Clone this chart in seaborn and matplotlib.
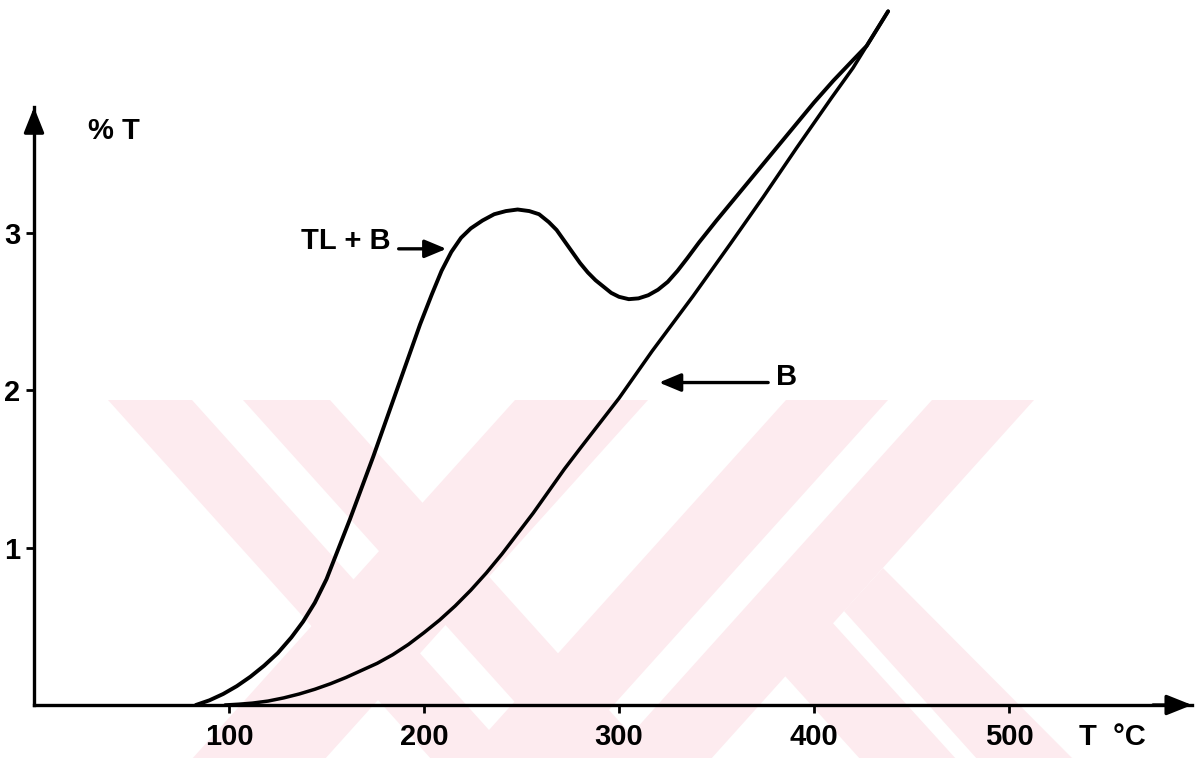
import matplotlib
matplotlib.use("Agg")
import matplotlib.pyplot as plt
from matplotlib.patches import Polygon
import seaborn as sns

# Glow curve: TL signal on top of background (TL + B), temperature in °C
tlb_temp = [83, 90, 97, 104, 111, 118, 125, 132, 138, 144, 150, 156, 162, 168,
            174, 180, 186, 192, 198, 204, 209, 214, 219, 224, 230, 236, 242, 248,
            254, 259, 264, 268, 272, 276, 280, 284, 288, 292, 296, 300, 305, 310,
            315, 320, 325, 330, 335, 341, 350, 360, 370, 380, 390, 400, 410, 420,
            427, 438]
tlb_signal = [0.00, 0.03, 0.07, 0.12, 0.18, 0.25, 0.33, 0.43, 0.53, 0.65, 0.80, 0.99,
              1.18, 1.38, 1.58, 1.79, 2.00, 2.21, 2.42, 2.61, 2.76, 2.88, 2.97, 3.03,
              3.08, 3.12, 3.14, 3.15, 3.14, 3.12, 3.07, 3.02, 2.95, 2.88, 2.81, 2.75,
              2.70, 2.66, 2.62, 2.595, 2.58, 2.585, 2.605, 2.64, 2.69, 2.76, 2.84,
              2.94, 3.08, 3.23, 3.38, 3.53, 3.68, 3.83, 3.97, 4.10, 4.19, 4.41]

# Background (B) alone
b_temp = [98, 105, 112, 120, 128, 136, 144, 152, 160, 168, 176, 184, 192, 200, 208,
          216, 224, 232, 240, 248, 256, 264, 272, 280, 290, 300, 317, 338, 357, 374,
          391, 409, 420, 427, 438]
b_signal = [0.0, 0.005, 0.012, 0.025, 0.045, 0.07, 0.10, 0.135, 0.175, 0.22, 0.265,
            0.32, 0.385, 0.46, 0.54, 0.63, 0.73, 0.84, 0.96, 1.09, 1.22, 1.36, 1.50,
            1.63, 1.79, 1.95, 2.25, 2.60, 2.93, 3.23, 3.54, 3.86, 4.05, 4.19, 4.41]

x_ticks = [100, 200, 300, 400, 500]
y_ticks = [1, 2, 3]

sns.set_theme(style="white")
plt.rcParams['font.family'] = ['Liberation Sans', 'DejaVu Sans']
plt.rcParams['font.weight'] = 'bold'

W, H = 1200, 758
fig = plt.figure(figsize=(W / 100, H / 100), dpi=100)
fig.patch.set_facecolor('white')

# Faint emblem printed behind the graph (pixel coordinates, y downwards)
PINK = '#fdebef'
SL = 0.9


def to_fig(pts):
    return [(x / W, 1 - y / H) for x, y in pts]


def band(x0, x1, y0, y1, d):
    return [(x0 + d * SL * (y0 - 400), y0), (x1 + d * SL * (y0 - 400), y0),
            (x1 + d * SL * (y1 - 400), y1), (x0 + d * SL * (y1 - 400), y1)]


emblem = [
    band(108, 192, 400, 760, 1),
    band(243, 330, 400, 760, 1),
    band(515, 648, 400, 760, -1),
    band(786, 888, 400, 760, -1),
    band(932, 1034, 400, 760, -1),
    [(785, 676), (782, 567), (957, 760), (861, 760)],
    [(844, 611), (883, 568), (1074, 760), (978, 760)],
]
for pts in emblem:
    fig.add_artist(Polygon(to_fig(pts), closed=True, transform=fig.transFigure,
                           facecolor=PINK, edgecolor='none', zorder=-5))

ax = fig.add_axes([34 / W, 53 / H, 1158 / W, 700 / H])
ax.patch.set_alpha(0)
x_max = 1158 / 1.95
y_max = 700 / 157.3
ax.set_xlim(0, x_max)
ax.set_ylim(0, y_max)

sns.lineplot(x=tlb_temp, y=tlb_signal, color='black', linewidth=2.8,
             sort=False, estimator=None, ax=ax)
sns.lineplot(x=b_temp, y=b_signal, color='black', linewidth=2.5,
             sort=False, estimator=None, ax=ax)

for side in ('top', 'right'):
    ax.spines[side].set_visible(False)
for side in ('left', 'bottom'):
    ax.spines[side].set_linewidth(2.4)
    ax.spines[side].set_color('black')
ax.spines['left'].set_bounds(0, 3.80)

arrow_kw = dict(arrowstyle='-|>,head_length=0.7,head_width=0.28', color='black',
                lw=2.4, mutation_scale=22, shrinkA=0, shrinkB=0)
ax.annotate('', xy=(x_max, 0), xytext=(x_max - 20, 0), arrowprops=arrow_kw,
            annotation_clip=False)
ax.annotate('', xy=(0, 3.80), xytext=(0, 3.65), arrowprops=arrow_kw,
            annotation_clip=False)

ax.set_xticks(x_ticks)
ax.set_xticklabels([str(t) for t in x_ticks])
ax.set_yticks(y_ticks)
ax.set_yticklabels([str(t) for t in y_ticks])
ax.tick_params(axis='both', bottom=True, left=True, direction='out', length=6,
               width=2, colors='black', labelsize=21)
ax.tick_params(axis='x', pad=7)
ax.tick_params(axis='y', pad=4)
for lab in ax.get_xticklabels() + ax.get_yticklabels():
    lab.set_fontweight('bold')
ax.set_xlabel('')
ax.set_ylabel('')

label_arrow = dict(arrowstyle='-|>,head_length=0.6,head_width=0.25', color='black',
                   lw=2.4, mutation_scale=22, shrinkA=0, shrinkB=0)
ax.text(160, 2.95, "TL + B", ha='center', va='center', fontsize=21,
        fontweight='bold', color='black')
ax.annotate('', xy=(211.5, 2.90), xytext=(187, 2.90), arrowprops=label_arrow)
ax.text(386, 2.085, "B", ha='center', va='center', fontsize=21,
        fontweight='bold', color='black')
ax.annotate('', xy=(320.5, 2.05), xytext=(376.5, 2.05), arrowprops=label_arrow)
ax.text(41, 3.65, "% T", ha='center', va='center', fontsize=21,
        fontweight='bold', color='black')
ax.text(553, -0.205, "T  °C", ha='center', va='center', fontsize=21,
        fontweight='bold', color='black', clip_on=False)

fig.savefig('out.png', dpi=100, facecolor='white')
